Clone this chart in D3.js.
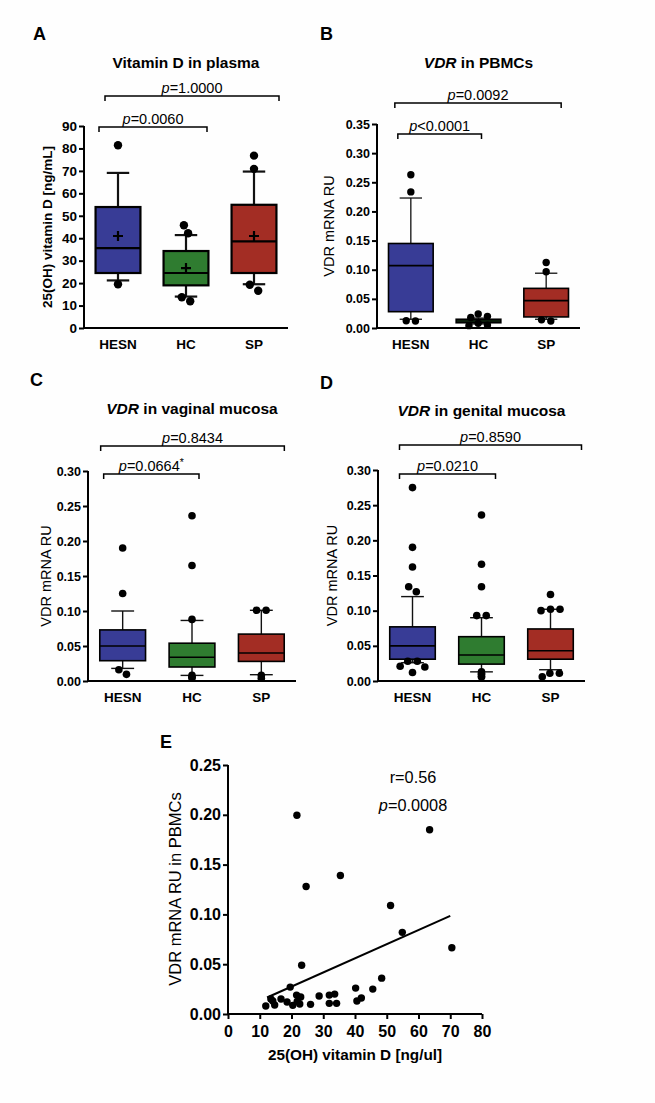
<!DOCTYPE html>
<html>
<head>
<meta charset="utf-8">
<script src="https://cdn.jsdelivr.net/npm/d3@7"></script>
<style>
  body { margin: 0; background: #fff; }
  svg { display: block; font-family: "Liberation Sans", Arial, sans-serif; }
</style>
</head>
<body>
<div id="fig"></div>
<script>
// ---- data ----
var groups = ["HESN", "HC", "SP"];
var groupColors = ["#383c96", "#2f7c30", "#a32d24"];

// box plots: whisker lo/hi, quartiles, median, mean (A only), outlier dots
var plasmaBoxes = [
  {group: "HESN", lo: 21.2, q1: 24.5, med: 35.6, q3: 53.9, hi: 69.1, mean: 41.0, out: [81.4, 19.5]},
  {group: "HC",   lo: 14.0, q1: 19.0, med: 24.5, q3: 34.3, hi: 41.4, mean: 26.7, out: [45.8, 42.2, 11.9, 13.7]},
  {group: "SP",   lo: 19.5, q1: 24.5, med: 38.6, q3: 54.9, hi: 69.7, mean: 41.0, out: [76.8, 70.9, 16.6, 19.3]}
];
var pbmcBoxes = [
  {group: "HESN", lo: 0.015, q1: 0.028, med: 0.107, q3: 0.145, hi: 0.223, out: [0.263, 0.2335, 0.012, 0.0125]},
  {group: "HC",   lo: 0.007, q1: 0.009, med: 0.012, q3: 0.015, hi: 0.017, out: [0.024, 0.020, 0.018, 0.008, 0.004, 0.005]},
  {group: "SP",   lo: 0.015, q1: 0.019, med: 0.047, q3: 0.068, hi: 0.094, out: [0.1125, 0.0965, 0.012, 0.014]}
];
var vaginalBoxes = [
  {group: "HESN", lo: 0.018, q1: 0.029, med: 0.050, q3: 0.073, hi: 0.100, out: [0.190, 0.125, 0.0095, 0.016]},
  {group: "HC",   lo: 0.008, q1: 0.020, med: 0.034, q3: 0.054, hi: 0.0865, out: [0.236, 0.165, 0.088, 0.008, 0.005, 0.005]},
  {group: "SP",   lo: 0.009, q1: 0.028, med: 0.040, q3: 0.067, hi: 0.101, out: [0.101, 0.101, 0.004, 0.008]}
];
var genitalBoxes = [
  {group: "HESN", lo: 0.026, q1: 0.031, med: 0.050, q3: 0.077, hi: 0.120, out: [0.275, 0.190, 0.162, 0.127, 0.134, 0.028, 0.028, 0.021, 0.020, 0.012]},
  {group: "HC",   lo: 0.013, q1: 0.024, med: 0.037, q3: 0.063, hi: 0.090, out: [0.236, 0.166, 0.134, 0.093, 0.093, 0.013, 0.010, 0.006, 0.006, 0.010]},
  {group: "SP",   lo: 0.016, q1: 0.031, med: 0.043, q3: 0.074, hi: 0.102, out: [0.123, 0.102, 0.100, 0.102, 0.011, 0.006, 0.011]}
];

// panel E scatter
var vitD = [21.7, 63.5, 35.4, 24.6, 51.2, 54.9, 70.5, 23.2, 48.4, 19.6, 40.2, 45.6, 28.7, 31.9, 33.6, 21.6,
            22.9, 16.7, 13.5, 14.1, 18.6, 42.0, 40.6, 11.9, 14.7, 20.4, 22.6, 26.0, 31.9, 34.2, 21.8];
var vdrPbmc = [0.1995, 0.185, 0.139, 0.128, 0.109, 0.082, 0.0665, 0.049, 0.036, 0.027, 0.026, 0.025, 0.018, 0.019, 0.020, 0.019,
               0.017, 0.015, 0.015, 0.013, 0.012, 0.016, 0.013, 0.008, 0.009, 0.0087, 0.010, 0.0097, 0.0107, 0.0107, 0.0127];
var fitX = [12.3, 70.0];
var fitY = [0.0166, 0.0985];
var eTicksX = [0, 10, 20, 30, 40, 50, 60, 70, 80];
var eTicksY = [0, 0.05, 0.10, 0.15, 0.20, 0.25];

var svg = d3.select("#fig").append("svg")
    .attr("width", 655)
    .attr("height", 1103);

svg.append("rect").attr("width", 655).attr("height", 1103).attr("fill", "#fefefe");

function pText(g, x, y, rest, size, sup) {
  var t = g.append("text")
      .attr("x", x).attr("y", y)
      .attr("text-anchor", "middle")
      .style("font-size", size + "px");
  t.append("tspan").style("font-style", "italic").text("p");
  t.append("tspan").text(rest);
  if (sup) t.append("tspan").attr("dy", -5).style("font-size", (size - 4) + "px").text(sup);
  return t;
}

// simple beeswarm: place dots without overlap, then centre each touching cluster
function swarm(vals, y, r) {
  var pts = vals.map(function(v, i) { return {v: v, y: y(v), x: 0, i: i}; });
  var placed = [];
  var order = pts.slice().sort(function(a, b) { return a.y - b.y; });
  var min = 2 * r + 0.6;
  order.forEach(function(p) {
    for (var k = 0; k < 60; k++) {
      var off = (k % 2 ? 1 : -1) * Math.ceil(k / 2) * r * 0.5;
      var ok = placed.every(function(q) {
        var dx = q.x - off, dy = q.y - p.y;
        return dx * dx + dy * dy >= min * min;
      });
      if (ok) { p.x = off; break; }
    }
    placed.push(p);
  });
  // clusters
  var parent = pts.map(function(d, i) { return i; });
  function find(i) { return parent[i] === i ? i : (parent[i] = find(parent[i])); }
  for (var a = 0; a < pts.length; a++) {
    for (var b = a + 1; b < pts.length; b++) {
      var dx = pts[a].x - pts[b].x, dy = pts[a].y - pts[b].y;
      if (Math.sqrt(dx * dx + dy * dy) < min + 1.5) parent[find(a)] = find(b);
    }
  }
  var sums = {};
  pts.forEach(function(p, i) {
    var c = find(i);
    if (!sums[c]) sums[c] = {s: 0, n: 0};
    sums[c].s += p.x; sums[c].n += 1;
  });
  pts.forEach(function(p, i) { var c = sums[find(i)]; p.x -= c.s / c.n; });
  return pts;
}

function boxPanel(cfg) {
  var g = svg.append("g");

  var x = d3.scalePoint()
      .domain(groups)
      .range([cfg.x0, cfg.x1])
      .padding(0.5);
  var step = x.step();
  var bw = step * 0.66;

  var y = d3.scaleLinear()
      .domain(cfg.domain)
      .range([cfg.yBot, cfg.yTop]);

  // panel letter
  g.append("text")
      .attr("x", cfg.lx).attr("y", cfg.ly)
      .style("font-size", "18px").style("font-weight", "bold")
      .text(cfg.letter);

  // title
  var title = g.append("text")
      .attr("x", (cfg.x0 + cfg.x1) / 2).attr("y", cfg.titleY)
      .attr("text-anchor", "middle")
      .style("font-size", "15.5px").style("font-weight", "bold");
  if (cfg.titleItalic) title.append("tspan").style("font-style", "italic").text(cfg.titleItalic);
  title.append("tspan").text(cfg.title);

  // axes
  var yAxis = d3.axisLeft(y)
      .tickValues(cfg.ticks)
      .tickFormat(d3.format(cfg.fmt))
      .tickSize(5)
      .tickPadding(2);
  var ya = g.append("g")
      .attr("transform", "translate(" + cfg.x0 + ",0)")
      .call(yAxis);
  ya.select(".domain").attr("d", "M0," + (cfg.yBot + 1) + "V" + cfg.yTop);
  ya.selectAll("line, path").attr("stroke", "#000").attr("stroke-width", 2);
  ya.selectAll("text")
      .style("font-size", cfg.tickFont + "px").style("font-weight", "bold")
      .attr("fill", "#000").style("font-family", "inherit");

  g.append("line")
      .attr("x1", cfg.x0 - 1).attr("x2", cfg.x1)
      .attr("y1", cfg.yBot).attr("y2", cfg.yBot)
      .attr("stroke", "#000").attr("stroke-width", 2);

  g.selectAll(".cat")
      .data(groups)
      .enter().append("text")
      .attr("x", function(d) { return x(d); })
      .attr("y", cfg.yBot + 21)
      .attr("text-anchor", "middle")
      .style("font-size", "13.5px").style("font-weight", "bold")
      .text(function(d) { return d; });

  // y label
  g.append("text")
      .attr("transform", "translate(" + cfg.ylabelX + "," + ((cfg.yTop + cfg.yBot) / 2) + ") rotate(-90)")
      .attr("text-anchor", "middle")
      .attr("dy", "0.35em")
      .style("font-size", cfg.ylabelSize + "px")
      .style("font-weight", cfg.ylabelBold ? "bold" : "normal")
      .text(cfg.ylabel);

  // boxes
  cfg.boxes.forEach(function(b, i) {
    var cx = x(b.group);
    var bg = g.append("g");
    bg.append("line")
        .attr("x1", cx).attr("x2", cx)
        .attr("y1", y(b.hi)).attr("y2", y(b.lo))
        .attr("stroke", "#111").attr("stroke-width", cfg.wlw);
    [b.hi, b.lo].forEach(function(v) {
      bg.append("line")
          .attr("x1", cx - bw / 4).attr("x2", cx + bw / 4)
          .attr("y1", y(v)).attr("y2", y(v))
          .attr("stroke", "#111").attr("stroke-width", cfg.wlw);
    });
    bg.append("rect")
        .attr("x", cx - bw / 2).attr("width", bw)
        .attr("y", y(b.q3)).attr("height", Math.max(1, y(b.q1) - y(b.q3)))
        .attr("fill", groupColors[i])
        .attr("stroke", "#000").attr("stroke-width", cfg.lw);
    bg.append("line")
        .attr("x1", cx - bw / 2).attr("x2", cx + bw / 2)
        .attr("y1", y(b.med)).attr("y2", y(b.med))
        .attr("stroke", "#000").attr("stroke-width", cfg.lw);
    if (cfg.showMean) {
      bg.append("path")
          .attr("d", "M" + (cx - 5) + "," + y(b.mean) + "H" + (cx + 5) +
                     "M" + cx + "," + (y(b.mean) - 5) + "V" + (y(b.mean) + 5))
          .attr("stroke", "#000").attr("stroke-width", 2.2);
    }
    var pts = swarm(b.out, y, cfg.r);
    bg.selectAll("circle")
        .data(pts)
        .enter().append("circle")
        .attr("cx", function(d) { return cx + d.x; })
        .attr("cy", function(d) { return d.y; })
        .attr("r", cfg.r)
        .attr("fill", "#000");
  });

  // significance brackets
  cfg.brackets.forEach(function(br) {
    var xa = x(groups[br.a]) + br.l, xb = x(groups[br.b]) + br.r;
    g.append("path")
        .attr("d", "M" + xa + "," + (br.y + 5) + "V" + br.y + "H" + xb + "V" + (br.y + 5))
        .attr("fill", "none").attr("stroke", "#000").attr("stroke-width", 1.5);
    pText(g, (xa + xb) / 2, br.y - 3, br.text, 14.5, br.sup);
  });
}

boxPanel({
  letter: "A", lx: 33, ly: 40,
  title: "Vitamin D in plasma", titleY: 68,
  x0: 84, x1: 288, yTop: 126, yBot: 328,
  domain: [0, 90], ticks: d3.range(0, 91, 10), fmt: "d", tickFont: 13.5,
  ylabel: "25(OH) vitamin D [ng/mL]", ylabelBold: true, ylabelSize: 13.5, ylabelX: 47,
  boxes: plasmaBoxes, showMean: true, lw: 2.2, wlw: 2.2, r: 4.2,
  brackets: [
    {a: 0, b: 2, y: 96, text: "=1.0000", l: -13, r: 25},
    {a: 0, b: 1, y: 127, text: "=0.0060", l: -19, r: 21}
  ]
});

boxPanel({
  letter: "B", lx: 320, ly: 40,
  titleItalic: "VDR", title: " in PBMCs", titleY: 68,
  x0: 377, x1: 580, yTop: 124, yBot: 328,
  domain: [0, 0.35], ticks: d3.range(0, 0.351, 0.05), fmt: ".2f", tickFont: 12.5,
  ylabel: "VDR mRNA RU", ylabelBold: false, ylabelSize: 14.5, ylabelX: 329,
  boxes: pbmcBoxes, showMean: false, lw: 1.6, wlw: 1.3, r: 3.7,
  brackets: [
    {a: 0, b: 2, y: 103, text: "=0.0092", l: -16, r: 15},
    {a: 0, b: 1, y: 134, text: "<0.0001", l: -13, r: 3}
  ]
});

boxPanel({
  letter: "C", lx: 30, ly: 386,
  titleItalic: "VDR", title: " in vaginal mucosa", titleY: 414,
  x0: 88, x1: 296, yTop: 471, yBot: 681,
  domain: [0, 0.30], ticks: d3.range(0, 0.301, 0.05), fmt: ".2f", tickFont: 12.5,
  ylabel: "VDR mRNA RU", ylabelBold: false, ylabelSize: 14.5, ylabelX: 46,
  boxes: vaginalBoxes, showMean: false, lw: 1.6, wlw: 1.4, r: 3.8,
  brackets: [
    {a: 0, b: 2, y: 446, text: "=0.8434", l: -22, r: 23},
    {a: 0, b: 1, y: 474, text: "=0.0664", sup: "*", l: -19, r: 7}
  ]
});

boxPanel({
  letter: "D", lx: 320, ly: 389,
  titleItalic: "VDR", title: " in genital mucosa", titleY: 416,
  x0: 378, x1: 585, yTop: 470, yBot: 681,
  domain: [0, 0.30], ticks: d3.range(0, 0.301, 0.05), fmt: ".2f", tickFont: 12.5,
  ylabel: "VDR mRNA RU", ylabelBold: false, ylabelSize: 14.5, ylabelX: 332,
  boxes: genitalBoxes, showMean: false, lw: 1.6, wlw: 1.4, r: 3.8,
  brackets: [
    {a: 0, b: 2, y: 445, text: "=0.8590", l: -13, r: 31},
    {a: 0, b: 1, y: 474, text: "=0.0210", l: -13, r: 14}
  ]
});

// ---- panel E: scatter with regression line ----
var gE = svg.append("g");
var ex = d3.scaleLinear().domain([0, 80]).range([228, 482]);
var ey = d3.scaleLinear().domain([0, 0.25]).range([1014, 765]);

gE.append("text")
    .attr("x", 160).attr("y", 748)
    .style("font-size", "18px").style("font-weight", "bold")
    .text("E");

var xAxisE = gE.append("g")
    .attr("transform", "translate(0,1014)")
    .call(d3.axisBottom(ex).tickValues(eTicksX).tickFormat(d3.format("d")).tickSize(5).tickPadding(7));
var yAxisE = gE.append("g")
    .attr("transform", "translate(228,0)")
    .call(d3.axisLeft(ey).tickValues(eTicksY).tickFormat(d3.format(".2f")).tickSize(5).tickPadding(2));
xAxisE.select(".domain").attr("d", "M227,0H482");
yAxisE.select(".domain").attr("d", "M0,1015V765");
[xAxisE, yAxisE].forEach(function(a) {
  a.selectAll("line, path").attr("stroke", "#000").attr("stroke-width", 2);
  a.selectAll("text")
      .style("font-size", "16px").style("font-weight", "bold")
      .style("font-family", "inherit").attr("fill", "#000");
});

gE.append("line")
    .attr("x1", ex(fitX[0])).attr("y1", ey(fitY[0]))
    .attr("x2", ex(fitX[1])).attr("y2", ey(fitY[1]))
    .attr("stroke", "#000").attr("stroke-width", 2);

gE.selectAll(".pt")
    .data(vitD)
    .enter().append("circle")
    .attr("class", "pt")
    .attr("cx", function(d) { return ex(d); })
    .attr("cy", function(d, i) { return ey(vdrPbmc[i]); })
    .attr("r", 3.7)
    .attr("fill", "#000");

gE.append("text")
    .attr("x", 355).attr("y", 1060)
    .attr("text-anchor", "middle")
    .style("font-size", "15.3px").style("font-weight", "bold")
    .text("25(OH) vitamin D [ng/ul]");

gE.append("text")
    .attr("transform", "translate(175,889) rotate(-90)")
    .attr("text-anchor", "middle")
    .attr("dy", "0.35em")
    .style("font-size", "16.5px")
    .text("VDR mRNA RU in PBMCs");

gE.append("text")
    .attr("x", 413).attr("y", 783)
    .attr("text-anchor", "middle")
    .style("font-size", "16.3px")
    .text("r=0.56");
pText(gE, 413, 811, "=0.0008", 16.3);
</script>
</body>
</html>
